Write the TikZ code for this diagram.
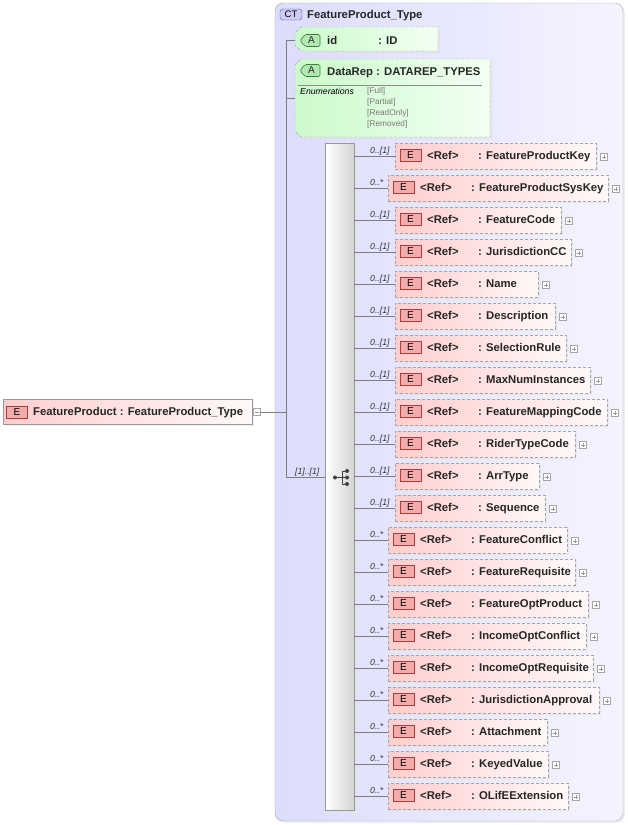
\documentclass[tikz,border=0pt]{standalone}
\usepackage{fontspec}
\setmainfont{Liberation Sans}
\usetikzlibrary{shadows}
\definecolor{ctfill}{RGB}{220,220,252}
\definecolor{ctfillR}{RGB}{244,244,255}
\definecolor{ctborder}{RGB}{165,165,180}
\definecolor{cttagfill}{RGB}{205,205,245}
\definecolor{cttagdraw}{RGB}{90,90,140}
\definecolor{pinkL}{RGB}{255,206,206}
\definecolor{pinkR}{RGB}{255,248,248}
\definecolor{greenL}{RGB}{204,250,204}
\definecolor{greenR}{RGB}{242,255,242}
\definecolor{dashgray}{RGB}{165,165,165}
\definecolor{etagfill}{RGB}{242,172,172}
\definecolor{etagdraw}{RGB}{170,60,60}
\definecolor{atagfill}{RGB}{178,232,178}
\definecolor{atagdraw}{RGB}{60,125,60}
\definecolor{linegray}{RGB}{125,125,125}
\definecolor{enumgray}{RGB}{120,120,120}
\newcommand\kid[6]{%
  \pgfmathsetmacro\cy{156+32*(#2-1)}%
  \pgfmathsetmacro\bw{#4-#3}%
  \pgfmathsetmacro\ex{#3+15.5}%
  \pgfmathsetmacro\rx{#3+32}%
  \pgfmathsetmacro\nx{#3+83}%
  \pgfmathsetmacro\px{#4+8}%
  \node[kidbox, minimum width=\bw pt] (k#1) at (#3,\cy) {};
  \node[etag] (e#1) at (\ex,\cy-1) {E};
  \node[nametext] (r#1) at (\rx,\cy+3) {<Ref>};
  \node[nametext] (n#1) at (\nx,\cy+3) {: #5};
  \node[plusbox] (p#1) at (\px,\cy+1) {};
  \draw[plusline] ([xshift=-2pt]p#1.center) -- ([xshift=2pt]p#1.center);
  \draw[plusline] ([yshift=-2pt]p#1.center) -- ([yshift=2pt]p#1.center);
  \node[mult] (m#1) at (370,\cy-3) {#6};
  \draw[conn] (comp.east |- k#1.west) -- (k#1.west);
}
\begin{document}
\begin{tikzpicture}[x=1pt,y=-1pt,
  kidbox/.style={draw=dashgray, dash pattern=on 3pt off 2pt, left color=pinkL, right color=pinkR,
    minimum height=26pt, inner sep=0pt, anchor=west,
    drop shadow={shadow xshift=2pt, shadow yshift=-2pt, fill=black!12}},
  etag/.style={draw=etagdraw, fill=etagfill, minimum width=21pt, minimum height=12pt, inner sep=0pt,
    font=\fontsize{10}{10}\selectfont},
  nametext/.style={font=\fontsize{11.3}{13}\selectfont\bfseries, inner sep=0pt, anchor=base west, text=black!85},
  mult/.style={font=\fontsize{8.7}{10}\selectfont\itshape, inner sep=0pt, anchor=base west, text=black!80},
  plusbox/.style={draw=black!35, fill=white, minimum size=7pt, inner sep=0pt},
  plusline/.style={draw=black!40, line width=0.5pt},
  conn/.style={draw=linegray, line width=0.6pt},
  attrbox/.style={draw=dashgray, dash pattern=on 3pt off 2pt, left color=greenL, right color=greenR,
    drop shadow={shadow xshift=2pt, shadow yshift=-2pt, fill=black!12}},
  atag/.style={draw=atagdraw, fill=atagfill, rounded corners=1.5pt, line width=0.6pt},
  tagtext/.style={font=\fontsize{10}{10}\selectfont, inner sep=0pt, text=black!85},
]
\useasboundingbox (0,0) rectangle (628,825);
% complex type container
\node[draw=ctborder, rounded corners=8pt, left color=ctfill, right color=ctfillR,
  minimum width=348pt, minimum height=818pt, inner sep=0pt,
  drop shadow={shadow xshift=2pt, shadow yshift=-2pt, fill=black!12}] (ct) at (449,412) {};
\node[draw=cttagdraw, fill=cttagfill, rounded corners=3pt, minimum width=22pt, minimum height=11pt,
  inner sep=0pt, font=\fontsize{9.5}{10}\selectfont] (cttag) at (291,14.5) {CT};
\node[nametext] (cttitle) at (307,18) {FeatureProduct\_Type};
% attribute id
\path[attrbox] (301,27) -- (438,27) -- (438,51) -- (301,51) -- (295,45) -- (295,33) -- cycle;
\coordinate (idw) at (295,40);
\path[atag] (320,34.5) -- (305,34.5) -- (300,40.5) -- (305,46.5) -- (320,46.5) -- cycle;
\node[tagtext] (ida) at (311.5,40.5) {A};
\node[nametext] (idname) at (327,44) {id};
\node[nametext] (idtype) at (378,44) {: ID};
% attribute DataRep
\path[attrbox] (301,59) -- (490,59) -- (490,137) -- (301,137) -- (295,131) -- (295,65) -- cycle;
\coordinate (drw) at (295,98);
\path[atag] (320,64.5) -- (305,64.5) -- (300,70.5) -- (305,76.5) -- (320,76.5) -- cycle;
\node[tagtext] (dra) at (311.5,70.5) {A};
\node[nametext] (drname) at (327,75.5) {DataRep};
\node[nametext] (drtype) at (376,75.5) {: DATAREP\_TYPES};
\draw[draw=black!45, line width=0.6pt] (298,85) -- (482,85);
\node[mult, text=black] (enum) at (300,94.5) {Enumerations};
\node[mult, font=\fontsize{8.3}{9}\selectfont, text=enumgray] (v1) at (367,93.5) {[Full]};
\node[mult, font=\fontsize{8.3}{9}\selectfont, text=enumgray] (v2) at (367,104) {[Partial]};
\node[mult, font=\fontsize{8.3}{9}\selectfont, text=enumgray] (v3) at (367,115) {[ReadOnly]};
\node[mult, font=\fontsize{8.3}{9}\selectfont, text=enumgray] (v4) at (367,126) {[Removed]};
% top-level element
\node[draw=black!40, left color=pinkL, right color=pinkR, minimum width=249pt, minimum height=25pt,
  inner sep=0pt, anchor=west, drop shadow={shadow xshift=2pt, shadow yshift=-2pt, fill=black!12}] (top) at (3,411.5) {};
\node[etag] (topE) at (17,412) {E};
\node[nametext] (topname) at (33,415) {FeatureProduct : FeatureProduct\_Type};
\node[plusbox] (minus) at (256.5,412) {};
\draw[plusline] ([xshift=-2pt]minus.center) -- ([xshift=2pt]minus.center);
% sequence compositor
\node[draw=black!40, left color=white, right color=black!17, minimum width=29pt, minimum height=667pt,
  inner sep=0pt, drop shadow={shadow xshift=2pt, shadow yshift=-2pt, fill=black!12}] (comp) at (339.5,476.5) {};
\coordinate (jtop) at (286,40);
\coordinate (jbot) at (286,477);
\draw[conn] (minus.east) -- (jtop |- minus.east);
\draw[conn] (idw) -- (jtop) -- (jbot) -- (comp.west |- jbot);
\draw[conn] (jtop |- drw) -- (drw);
\node[mult] (seqmult) at (295,474) {[1]..[1]};
% compositor icon
\begin{scope}[black!75, line width=0.8pt]
\draw (335,477.5) -- (342,477.5);
\draw (342,471) -- (342,484);
\draw (342,471) -- (347,471) (342,477.5) -- (347,477.5) (342,484) -- (347,484);
\fill (335,477.5) circle (2) (347,471) circle (2) (347,477.5) circle (2) (347,484) circle (2);
\end{scope}
% children
\kid{1}{1}{395}{596}{FeatureProductKey}{0..[1]}
\kid{2}{2}{388}{608}{FeatureProductSysKey}{0..*}
\kid{3}{3}{395}{561}{FeatureCode}{0..[1]}
\kid{4}{4}{395}{571}{JurisdictionCC}{0..[1]}
\kid{5}{5}{395}{538}{Name}{0..[1]}
\kid{6}{6}{395}{555}{Description}{0..[1]}
\kid{7}{7}{395}{566}{SelectionRule}{0..[1]}
\kid{8}{8}{395}{590}{MaxNumInstances}{0..[1]}
\kid{9}{9}{395}{607}{FeatureMappingCode}{0..[1]}
\kid{10}{10}{395}{575}{RiderTypeCode}{0..[1]}
\kid{11}{11}{395}{539}{ArrType}{0..[1]}
\kid{12}{12}{395}{545}{Sequence}{0..[1]}
\kid{13}{13}{388}{567}{FeatureConflict}{0..*}
\kid{14}{14}{388}{575}{FeatureRequisite}{0..*}
\kid{15}{15}{388}{588}{FeatureOptProduct}{0..*}
\kid{16}{16}{388}{586}{IncomeOptConflict}{0..*}
\kid{17}{17}{388}{593}{IncomeOptRequisite}{0..*}
\kid{18}{18}{388}{599}{JurisdictionApproval}{0..*}
\kid{19}{19}{388}{547}{Attachment}{0..*}
\kid{20}{20}{388}{548}{KeyedValue}{0..*}
\kid{21}{21}{388}{568}{OLifEExtension}{0..*}
\end{tikzpicture}
\end{document}
